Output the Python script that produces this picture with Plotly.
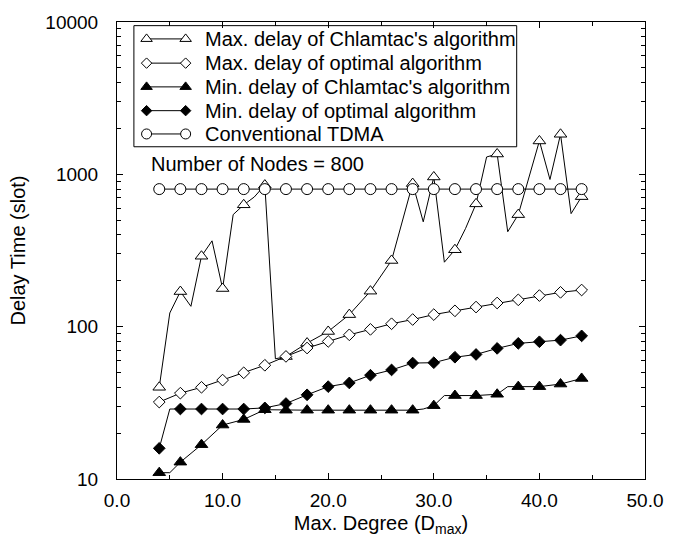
import plotly.graph_objects as go

# ---------------- data ----------------
# Max. delay of Chlamtac's algorithm (line passes through odd degrees too; markers at even degrees)
x_max_chl = [4, 5, 6, 7, 8, 9, 10, 11, 12, 13, 14, 15, 16, 18, 20, 22, 24, 26, 28, 29, 30, 31, 32, 33, 34, 35, 36, 37, 38, 40, 41, 42, 43, 44]
y_max_chl = [40, 123, 170, 136, 290, 366, 178, 544, 631, 710, 850, 61.5, 63.7, 78, 93, 120, 171, 272, 870, 488, 961, 265, 320, 440, 640, 1300, 1360, 420, 544, 1656, 925, 1832, 552, 714]

# Max. delay of optimal algorithm
x_max_opt = [4, 6, 8, 10, 12, 14, 16, 18, 20, 22, 24, 26, 28, 30, 32, 34, 36, 38, 40, 42, 44]
y_max_opt = [32, 36.6, 40, 44.6, 49.8, 55.8, 63.8, 72.4, 80, 88.4, 96, 104.5, 111.4, 120, 127, 134.5, 143, 150, 160, 168, 174]

# Min. delay of Chlamtac's algorithm
x_min_chl = [4, 5, 6, 8, 10, 12, 14, 16, 18, 20, 22, 24, 26, 28, 29, 30, 31, 32, 34, 36, 37, 38, 40, 42, 44]
y_min_chl = [11.0, 11.0, 12.9, 16.8, 22.6, 24.6, 28.5, 28.3, 28.3, 28.3, 28.3, 28.3, 28.3, 28.3, 28.8, 30.3, 35.3, 35.3, 35.3, 36, 40.4, 40.4, 40.4, 42, 45.7]

# Min. delay of optimal algorithm
x_min_opt = [4, 5, 6, 8, 10, 12, 14, 16, 18, 20, 22, 24, 26, 28, 30, 32, 34, 36, 38, 40, 42, 44]
y_min_opt = [15.9, 28.8, 28.8, 28.8, 28.8, 28.8, 29.3, 31.3, 35.7, 40.4, 42.7, 48, 52, 57.7, 58, 63, 65.7, 72, 77.7, 79.6, 81.6, 87]

# Conventional TDMA
x_tdma = [4, 6, 8, 10, 12, 14, 16, 18, 20, 22, 24, 26, 28, 30, 32, 34, 36, 38, 40, 42, 44]
y_tdma = [800] * len(x_tdma)

series_names = [
    "Max. delay of Chlamtac's algorithm",
    "Max. delay of optimal algorithm",
    "Min. delay of Chlamtac's algorithm",
    "Min. delay of optimal algorithm",
    "Conventional TDMA",
]

x_ticks = [0, 10, 20, 30, 40, 50]
x_tick_text = ["0.0", "10.0", "20.0", "30.0", "40.0", "50.0"]
x_minor = [5, 15, 25, 35, 45]
y_ticks = [10, 100, 1000, 10000]
y_tick_text = ["10", "100", "1000", "10000"]
y_minor = [m * d for d in (10, 100, 1000) for m in range(2, 10)]

annotation_text = "Number of Nodes = 800"

# ---------------- styling ----------------
FONT = "Liberation Sans, Arial, Helvetica, sans-serif"
BLACK = "black"
X_RANGE = [0, 50]
Y_LOG_RANGE = [1, 4]
styles = [
    dict(symbol="triangle-up", color="white", size=11),
    dict(symbol="diamond", color="white", size=9),
    dict(symbol="triangle-up", color="black", size=11),
    dict(symbol="diamond", color="black", size=9),
    dict(symbol="circle", color="white", size=11),
]
data = [
    (x_max_chl, y_max_chl),
    (x_max_opt, y_max_opt),
    (x_min_chl, y_min_chl),
    (x_min_opt, y_min_opt),
    (x_tdma, y_tdma),
]

fig = go.Figure()

for (xs, ys), st, name in zip(data, styles, series_names):
    fig.add_trace(go.Scatter(
        x=xs, y=ys, mode="lines", line=dict(color=BLACK, width=1),
        showlegend=False, hoverinfo="skip"))
    mx = [x for x in xs if x % 2 == 0]
    my = [y for x, y in zip(xs, ys) if x % 2 == 0]
    fig.add_trace(go.Scatter(
        x=mx, y=my, mode="markers", name=name, showlegend=False,
        marker=dict(symbol=st["symbol"], size=st["size"], color=st["color"],
                    line=dict(color=BLACK, width=1))))

# ---------------- custom legend (positions given as fractions of the plot area) ----------------
def px(f):
    return X_RANGE[0] + f * (X_RANGE[1] - X_RANGE[0])

def py(f):
    return 10 ** (Y_LOG_RANGE[0] + f * (Y_LOG_RANGE[1] - Y_LOG_RANGE[0]))

L_X0, L_X1, L_Y0, L_Y1 = 0.032, 0.757, 0.727, 0.992
row_y = [0.963, 0.910, 0.858, 0.806, 0.755]
sx0, sx1, tx = 0.056, 0.130, 0.163
fig.add_shape(type="rect", xref="paper", yref="paper", x0=L_X0, x1=L_X1, y0=L_Y0, y1=L_Y1,
              line=dict(color=BLACK, width=1), fillcolor="white", layer="below")
for st, name, ry in zip(styles, series_names, row_y):
    fig.add_trace(go.Scatter(
        x=[px(sx0), px(sx1)], y=[py(ry), py(ry)], mode="lines+markers",
        line=dict(color=BLACK, width=1), showlegend=False, hoverinfo="skip",
        marker=dict(symbol=st["symbol"], size=st["size"] - 1, color=st["color"],
                    line=dict(color=BLACK, width=1))))
    fig.add_annotation(x=tx, y=ry, xref="paper", yref="paper", text=name, showarrow=False,
                       xanchor="left", yanchor="middle",
                       font=dict(family=FONT, size=20, color=BLACK))

fig.add_annotation(x=0.061, y=0.690, xref="paper", yref="paper", text=annotation_text,
                   showarrow=False, xanchor="left", yanchor="middle",
                   font=dict(family=FONT, size=20, color=BLACK))

axis_common = dict(showline=True, linecolor=BLACK, linewidth=1, mirror="ticks",
                   ticks="inside", tickcolor=BLACK, ticklen=6, tickwidth=1,
                   showgrid=False, zeroline=False,
                   tickfont=dict(family=FONT, size=19, color=BLACK))

fig.update_layout(
    width=675, height=543,
    margin=dict(l=117, r=19, t=19, b=58),
    paper_bgcolor="white", plot_bgcolor="white",
    font=dict(family=FONT, size=19, color=BLACK),
    showlegend=False,
    xaxis=dict(range=X_RANGE, tickmode="array", tickvals=x_ticks, ticktext=x_tick_text,
               title=dict(text="Max. Degree (D<sub>max</sub>)", font=dict(family=FONT, size=20),
                          standoff=6),
               minor=dict(tickmode="array", tickvals=x_minor, ticks="inside", ticklen=4,
                          tickcolor=BLACK, showgrid=False),
               ticklabelstandoff=4,
               **axis_common),
    yaxis=dict(type="log", range=Y_LOG_RANGE, tickmode="array", tickvals=y_ticks, ticktext=y_tick_text,
               title=dict(text="Delay Time (slot)", font=dict(family=FONT, size=20), standoff=14),
               minor=dict(tickmode="array", tickvals=y_minor, ticks="inside", ticklen=4,
                          tickcolor=BLACK, showgrid=False),
               ticklabelstandoff=14,
               **axis_common),
)

fig.write_html("out.html")
